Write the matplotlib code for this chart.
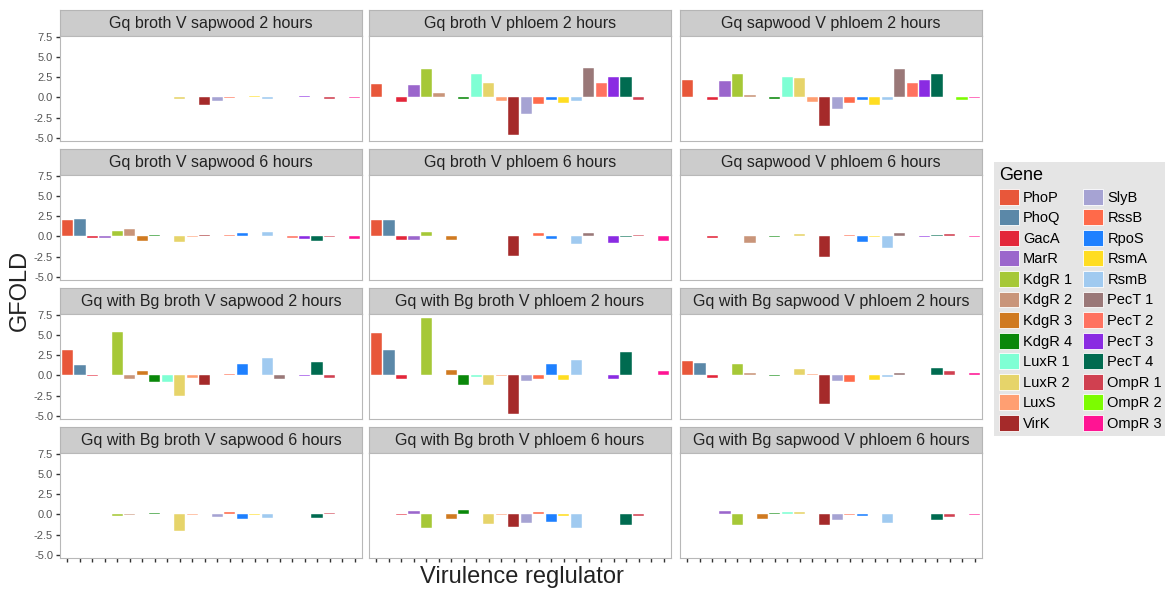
import numpy as np
import matplotlib
matplotlib.use("Agg")
import matplotlib.pyplot as plt
from matplotlib.patches import Patch

plt.rcParams['font.family'] = ['Liberation Sans', 'DejaVu Sans']

NA = np.nan

genes = ['PhoP', 'PhoQ', 'GacA', 'MarR', 'KdgR 1', 'KdgR 2', 'KdgR 3', 'KdgR 4',
         'LuxR 1', 'LuxR 2', 'LuxS', 'VirK', 'SlyB', 'RssB', 'RpoS', 'RsmA',
         'RsmB', 'PecT 1', 'PecT 2', 'PecT 3', 'PecT 4', 'OmpR 1', 'OmpR 2', 'OmpR 3']

gene_colors = ['#E8573A', '#5B88A8', '#E3263A', '#9B66CC', '#A6C837', '#C9957A',
               '#D07A20', '#0A880A', '#7FFFD4', '#E6D46A', '#FF9F72', '#A52A2A',
               '#A6A3D3', '#FF6A4A', '#1E80FF', '#FFDD22', '#A0CAF0', '#9A7878',
               '#FF7260', '#8A2BE2', '#006B50', '#D04050', '#7CFC00', '#FF1493']

titles = ['Gq broth V sapwood 2 hours', 'Gq broth V phloem 2 hours', 'Gq sapwood V phloem 2 hours',
          'Gq broth V sapwood 6 hours', 'Gq broth V phloem 6 hours', 'Gq sapwood V phloem 6 hours',
          'Gq with Bg broth V sapwood 2 hours', 'Gq with Bg broth V phloem 2 hours',
          'Gq with Bg sapwood V phloem 2 hours',
          'Gq with Bg broth V sapwood 6 hours', 'Gq with Bg broth V phloem 6 hours',
          'Gq with Bg sapwood V phloem 6 hours']

# fold change per gene, same order as genes (NA = not measured)
broth_sap_2h = [NA, NA, 0.1, NA, NA, 0.1, NA, NA, NA, -0.15, 0.1, -1.0,
                -0.45, -0.1, NA, 0.15, -0.15, NA, NA, 0.2, NA, -0.15, 0.1, -0.1]
broth_phl_2h = [1.6, NA, -0.55, 1.5, 3.55, 0.5, NA, -0.2, 2.95, 1.8, -0.45, -4.7,
                -2.0, -0.8, -0.35, -0.75, -0.5, 3.65, 1.75, 2.5, 2.55, -0.3, NA, NA]
sap_phl_2h = [2.1, 0.1, -0.35, 2.0, 2.85, 0.3, NA, -0.2, 2.5, 2.45, -0.55, -3.6,
              -1.4, -0.65, -0.35, -0.95, -0.3, 3.55, 1.75, 2.1, 2.85, NA, -0.3, -0.1]
broth_sap_6h = [2.0, 2.15, -0.25, -0.2, 0.65, 0.9, -0.6, 0.2, NA, -0.75, -0.1, 0.15,
                NA, 0.15, 0.4, 0.05, 0.55, NA, -0.2, -0.35, -0.6, -0.1, NA, -0.3]
broth_phl_6h = [2.05, 2.05, -0.5, -0.5, 0.6, NA, -0.5, NA, NA, NA, NA, -2.4,
                NA, 0.4, -0.3, NA, -0.9, 0.4, NA, -0.8, -0.1, 0.15, NA, -0.55]
sap_phl_6h = [0.05, NA, -0.2, NA, NA, -0.8, NA, -0.05, NA, 0.3, 0.05, -2.6,
              NA, 0.15, -0.7, -0.1, -1.4, 0.4, 0.1, -0.05, 0.2, 0.35, NA, -0.1]
bg_broth_sap_2h = [3.2, 1.3, -0.05, NA, 5.4, -0.4, 0.5, -0.8, -0.8, -2.5, -0.3, -1.2,
                   NA, 0.2, 1.45, NA, 2.15, -0.4, NA, -0.05, 1.6, -0.3, NA, 0.1]
bg_broth_phl_2h = [5.3, 3.2, -0.45, NA, 7.05, NA, 0.7, -1.2, -0.15, -1.2, -0.05, -4.75,
                   -0.7, -0.5, 1.45, -0.55, 1.85, NA, NA, -0.5, 2.85, 0.1, 0.1, 0.6]
bg_sap_phl_2h = [1.75, 1.55, -0.3, NA, 1.4, 0.35, 0.1, -0.1, NA, 0.8, 0.15, -3.5,
                 -0.75, -0.85, NA, -0.55, -0.2, 0.35, 0.1, NA, 0.9, 0.5, NA, 0.3]
bg_broth_sap_6h = [NA, NA, NA, NA, -0.15, -0.05, NA, 0.15, NA, -2.1, -0.05, NA,
                   -0.35, 0.25, -0.6, -0.05, -0.5, NA, NA, NA, -0.45, 0.15, NA, NA]
bg_broth_phl_6h = [NA, NA, -0.05, 0.45, -1.65, NA, -0.6, 0.5, 0.05, -1.25, -0.05, -1.5,
                   -1.1, 0.35, -0.9, -0.2, -1.65, NA, NA, NA, -1.3, -0.15, NA, NA]
bg_sap_phl_6h = [NA, NA, NA, 0.4, -1.35, 0.1, -0.55, 0.2, 0.3, 0.3, NA, -1.35,
                 -0.65, -0.05, -0.2, NA, -1.1, NA, NA, NA, -0.7, -0.3, NA, -0.05]

panels = [broth_sap_2h, broth_phl_2h, sap_phl_2h,
          broth_sap_6h, broth_phl_6h, sap_phl_6h,
          bg_broth_sap_2h, bg_broth_phl_2h, bg_sap_phl_2h,
          bg_broth_sap_6h, bg_broth_phl_6h, bg_sap_phl_6h]

W, H = 1165, 589
fig = plt.figure(figsize=(W / 100, H / 100), dpi=100)

col_left = [60, 369, 680]
panel_w = 302
strip_h = 26
panel_h = 105
row_step = 139
top0 = 10


def px_axes(left, top, width, height):
    return fig.add_axes([left / W, 1 - (top + height) / H, width / W, height / H])


x = np.arange(1, len(genes) + 1)
for i, vals in enumerate(panels):
    r, c = divmod(i, 3)
    top = top0 + r * row_step

    # facet strip
    sax = px_axes(col_left[c], top, panel_w, strip_h)
    sax.set_facecolor('#CCCCCC')
    sax.set_xticks([])
    sax.set_yticks([])
    for sp in sax.spines.values():
        sp.set_color('#B5B5B5')
    sax.text(0.5, 0.48, titles[i], ha='center', va='center', fontsize=11.5,
             color='#222222', transform=sax.transAxes)

    ax = px_axes(col_left[c], top + strip_h, panel_w, panel_h)
    v = np.array(vals, dtype=float)
    ax.bar(x, np.nan_to_num(v), width=0.9, color=gene_colors,
           edgecolor='white', linewidth=0.3)
    ax.set_xlim(0.4, 24.6)
    ax.set_ylim(-5.4, 7.6)
    for sp in ax.spines.values():
        sp.set_color('#B8B8B8')
        sp.set_linewidth(0.8)

    ax.set_yticks([-5.0, -2.5, 0.0, 2.5, 5.0, 7.5])
    ax.set_xticks(x)
    ax.tick_params(axis='both', length=3, width=1, color='#333333',
                   labelsize=8, labelcolor='#555555', pad=2)
    if c != 0:
        ax.tick_params(axis='y', left=False, labelleft=False)
    else:
        ax.set_yticklabels(['-5.0', '-2.5', '0.0', '2.5', '5.0', '7.5'])
    if r != 3:
        ax.tick_params(axis='x', bottom=False)
    ax.set_xticklabels([])

fig.text(20 / W, 1 - 290 / H, 'GFOLD', rotation=90, ha='center', va='center',
         fontsize=17, color='#222222')
fig.text(522 / W, 1 - 577 / H, 'Virulence reglulator', ha='center', va='center',
         fontsize=17, color='#222222')

handles = [Patch(facecolor=col, edgecolor='white', linewidth=0.6) for col in gene_colors]
leg = fig.legend(handles, genes, ncol=2, title='Gene', loc='upper left',
                 bbox_to_anchor=(994 / W, 1 - 162 / H), fontsize=10.5,
                 title_fontsize=13, frameon=True, fancybox=False,
                 facecolor='#E5E5E5', edgecolor='none', framealpha=1,
                 handlelength=1.35, handleheight=1.3, labelspacing=0.32,
                 columnspacing=0.75, handletextpad=0.3, borderpad=0.35,
                 borderaxespad=0)
leg._legend_box.align = 'left'

fig.savefig('out.png', dpi=100)
